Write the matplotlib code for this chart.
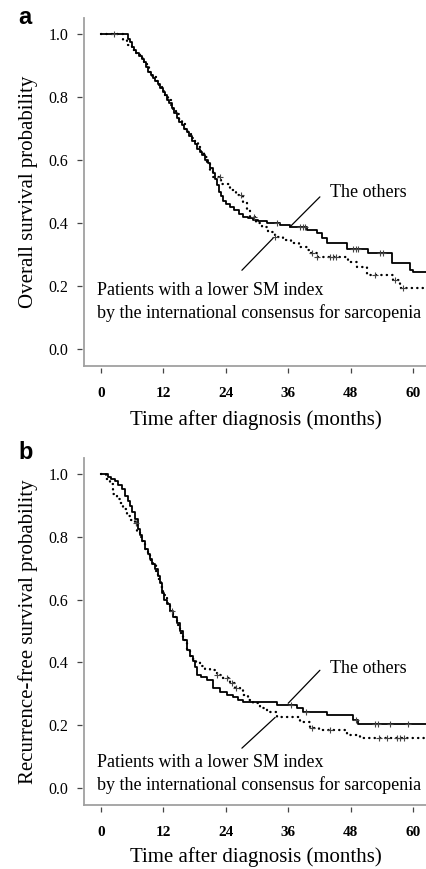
import matplotlib
matplotlib.use("Agg")
import matplotlib.pyplot as plt

SERIF = ["Liberation Serif", "DejaVu Serif"]

# ---------------- Panel a: overall survival ----------------
os_others_t = [0, 5.2, 5.5, 5.9, 6.3, 6.8, 7.3, 7.9, 8.3, 8.7, 9.1, 9.6, 10.0, 10.4, 10.9, 11.4,
               11.9, 12.3, 12.7, 13.1, 13.6, 14.1, 14.6, 15.0, 15.5, 16.0, 16.5, 17.0, 17.5, 18.0,
               18.5, 19.0, 19.5, 20.0, 20.5, 21.0, 21.5, 21.9, 22.3, 22.7, 23.1, 23.5, 24.0, 24.8,
               25.6, 26.5, 27.3, 28.2, 29.3, 30.2, 32.0, 34.4, 36.3, 39.6, 41.5, 42.5, 43.4,
               47.3, 51.3, 56.0, 59.4, 60.0, 63.0]
os_others_s = [1.0, 0.985, 0.975, 0.96, 0.95, 0.94, 0.93, 0.92, 0.91, 0.895, 0.88, 0.87, 0.86, 0.85,
               0.84, 0.83, 0.815, 0.805, 0.79, 0.78, 0.765, 0.75, 0.735, 0.72, 0.71, 0.70, 0.69, 0.675,
               0.66, 0.65, 0.635, 0.625, 0.615, 0.60, 0.59, 0.575, 0.56, 0.54, 0.52, 0.50, 0.485,
               0.47, 0.46, 0.45, 0.44, 0.43, 0.42, 0.415, 0.41, 0.405, 0.40, 0.395, 0.387, 0.378,
               0.368, 0.352, 0.337, 0.317, 0.305, 0.273, 0.25, 0.244, 0.244]
os_others_cens_t = [33.8, 38.3, 38.8, 39.2, 48.5, 49.0, 49.4, 53.7, 54.2]

os_low_t = [0, 4.2, 5.0, 6.0, 6.8, 7.5, 8.2, 8.8, 9.3, 9.9, 10.6, 11.2, 11.8, 12.3, 12.8, 13.4,
            13.9, 14.5, 15.0, 15.6, 16.2, 16.8, 17.4, 18.0, 18.6, 19.2, 19.8, 20.4, 21.0, 21.5,
            23.0, 24.8, 26.0, 27.3, 28.0, 28.6, 29.8, 31.0, 32.2, 33.4, 35.0, 36.5, 38.0, 39.6,
            40.2, 41.5, 47.5, 49.2, 51.2, 56.2, 57.5, 63.0]
os_low_s = [1.0, 0.98, 0.965, 0.95, 0.94, 0.925, 0.91, 0.895, 0.88, 0.865, 0.85, 0.835, 0.82, 0.805,
            0.79, 0.775, 0.76, 0.745, 0.73, 0.715, 0.70, 0.685, 0.67, 0.655, 0.64, 0.625, 0.61, 0.59,
            0.565, 0.546, 0.525, 0.505, 0.49, 0.467, 0.44, 0.42, 0.40, 0.387, 0.37, 0.355, 0.345,
            0.335, 0.324, 0.314, 0.305, 0.292, 0.276, 0.26, 0.235, 0.219, 0.194, 0.194]
os_low_cens_t = [2.5, 22.9, 27.0, 29.5, 33.4, 40.6, 41.5, 44.0, 44.6, 45.2, 52.7, 56.5, 58.0]

# ---------------- Panel b: recurrence-free survival ----------------
rfs_others_t = [0, 1.3, 2.0, 2.7, 3.3, 4.0, 4.6, 5.1, 5.6, 6.0, 6.5, 7.1, 7.5, 7.9, 8.5, 9.0, 9.4,
                9.9, 10.4, 10.9, 11.3, 11.7, 12.1, 12.6, 13.3, 13.9, 14.6, 15.2, 15.8, 16.5, 17.1,
                17.7, 18.1, 18.5, 19.3, 20.4, 21.6, 22.9, 24.2, 25.4, 26.3, 27.3, 33.8, 37.7,
                38.8, 43.4, 48.5, 49.4, 63.0]
rfs_others_s = [1.0, 0.99, 0.985, 0.978, 0.965, 0.952, 0.93, 0.915, 0.898, 0.88, 0.857, 0.825, 0.805,
                0.787, 0.762, 0.745, 0.73, 0.715, 0.698, 0.675, 0.654, 0.62, 0.60, 0.585, 0.565,
                0.545, 0.524, 0.50, 0.47, 0.438, 0.42, 0.406, 0.385, 0.36, 0.355, 0.343, 0.32,
                0.305, 0.297, 0.29, 0.28, 0.273, 0.263, 0.254, 0.241, 0.232, 0.216, 0.203, 0.203]
rfs_others_cens_t = [36.5, 39.5, 49.0, 52.7, 53.3, 55.6, 59.0]

rfs_low_t = [0, 1.0, 1.7, 2.3, 3.0, 3.7, 4.2, 5.0, 5.8, 6.5, 7.0, 7.5, 7.9, 8.5, 9.0, 9.5, 10.0,
             10.5, 11.0, 11.5, 12.0, 12.6, 13.3, 13.9, 14.6, 15.2, 15.8, 16.5, 17.1, 17.7, 18.3,
             19.0, 20.0, 21.0, 22.3, 23.5, 24.8, 25.8, 26.7, 27.3, 28.2, 29.2, 30.5, 31.9, 33.8,
             38.3, 40.2, 42.0, 47.3, 49.8, 63.0]
rfs_low_s = [1.0, 0.985, 0.968, 0.937, 0.92, 0.908, 0.889, 0.867, 0.855, 0.845, 0.82, 0.80, 0.787,
             0.76, 0.745, 0.725, 0.71, 0.69, 0.665, 0.64, 0.615, 0.59, 0.565, 0.545, 0.52, 0.495,
             0.47, 0.44, 0.42, 0.41, 0.40, 0.39, 0.38, 0.375, 0.36, 0.352, 0.333, 0.32, 0.311,
             0.295, 0.28, 0.27, 0.255, 0.241, 0.225, 0.21, 0.19, 0.184, 0.168, 0.159, 0.159]
rfs_low_cens_t = [6.8, 13.6, 22.3, 24.3, 25.2, 26.0, 40.5, 44.0, 53.5, 55.0, 57.0, 57.6, 58.2]

x_ticks = [0, 12, 24, 36, 48, 60]
y_ticks = [0.0, 0.2, 0.4, 0.6, 0.8, 1.0]
xlabel = "Time after diagnosis (months)"
ylabels = ["Overall survival probability", "Recurrence-free survival probability"]
label_others = "The others"
label_low = "Patients with a lower SM index\nby the international consensus for sarcopenia"

W, H = 427, 869
fig = plt.figure(figsize=(W / 100, H / 100), dpi=100)


def step_value(ts, ss, t):
    v = ss[0]
    for ti, si in zip(ts, ss):
        if ti <= t:
            v = si
    return v


def panel(rect, ylab, ot, osv, oc, lt, lsv, lc, ann, xlpad):
    ax = fig.add_axes(rect)
    ax.set_xlim(-3.27, 62.7)
    ax.set_ylim(-0.054, 1.051)
    ax.step(ot, osv, where="post", color="black", lw=1.3)
    ax.step(lt, lsv, where="post", color="black", lw=1.7, linestyle=(0, (0.1, 2.2)),
            dash_capstyle="round")
    ax.plot(oc, [step_value(ot, osv, t) for t in oc], linestyle="none", marker="+",
            color="#444444", ms=5, mew=0.8)
    ax.plot(lc, [step_value(lt, lsv, t) for t in lc], linestyle="none", marker="+",
            color="#444444", ms=5, mew=0.8)
    for s in ["top", "right"]:
        ax.spines[s].set_visible(False)
    for s in ["left", "bottom"]:
        ax.spines[s].set_position(("outward", 1.5))
        ax.spines[s].set_color("none")
    ax.plot([0, 0], [0, 1], transform=ax.transAxes, color="#a0a0a0", lw=1.3, clip_on=False)
    ax.plot([0, 1], [0, 0], transform=ax.transAxes, color="#a0a0a0", lw=1.3, clip_on=False)
    ax.set_xticks(x_ticks)
    ax.set_yticks(y_ticks)
    ax.set_yticklabels([f"{v:.1f}" for v in y_ticks], fontfamily=SERIF, fontsize=11.5)
    ax.set_xticklabels([str(v) for v in x_ticks], fontfamily=SERIF, fontsize=11, fontweight="bold")
    ax.tick_params(axis="both", direction="out", length=3.6, width=0.9, color="#444444")
    ax.tick_params(axis="y", pad=6)
    ax.tick_params(axis="x", pad=10)
    ax.set_xlabel(xlabel, fontfamily=SERIF, fontsize=15, labelpad=xlpad)
    ax.set_ylabel(ylab, fontfamily=SERIF, fontsize=15, labelpad=8)
    (o_pt, o_txt, o_lab, l_pt, l_txt, l_lab) = ann
    ax.annotate("", xy=o_pt, xytext=o_txt, arrowprops=dict(arrowstyle="-", color="black", lw=0.9,
                                                          shrinkA=0, shrinkB=0))
    ax.text(o_lab[0], o_lab[1], label_others, fontfamily=SERIF, fontsize=13,
            ha="left", va="center")
    ax.annotate("", xy=l_pt, xytext=l_txt, arrowprops=dict(arrowstyle="-", color="black", lw=0.9,
                                                          shrinkA=0, shrinkB=0))
    ax.text(l_lab[0], l_lab[1], label_low, fontfamily=SERIF, fontsize=13,
            ha="left", va="top", linespacing=1.35)
    return ax


ax_a = panel([84 / W, 1 - 366 / H, (W - 84) / W, (366 - 18) / H], ylabels[0],
             os_others_t, os_others_s, os_others_cens_t, os_low_t, os_low_s, os_low_cens_t,
             ((36.3, 0.387), (42.1, 0.483), (44.0, 0.496),
              (33.1, 0.352), (27.1, 0.25), (-0.8, 0.212)), 7)
ax_b = panel([84 / W, 1 - 805 / H, (W - 84) / W, (805 - 458) / H], ylabels[1],
             rfs_others_t, rfs_others_s, rfs_others_cens_t, rfs_low_t, rfs_low_s, rfs_low_cens_t,
             ((36.0, 0.27), (42.1, 0.375), (44.0, 0.381),
              (33.5, 0.225), (27.1, 0.127), (-0.8, 0.107)), 6)

fig.text(18 / W, 1 - 18 / H, "a", fontfamily=["Liberation Sans", "DejaVu Sans"], fontsize=17,
         fontweight="bold", ha="left", va="center")
fig.text(18 / W, 1 - 452 / H, "b", fontfamily=["Liberation Sans", "DejaVu Sans"], fontsize=17,
         fontweight="bold", ha="left", va="center")

fig.savefig("out.png", dpi=100)
